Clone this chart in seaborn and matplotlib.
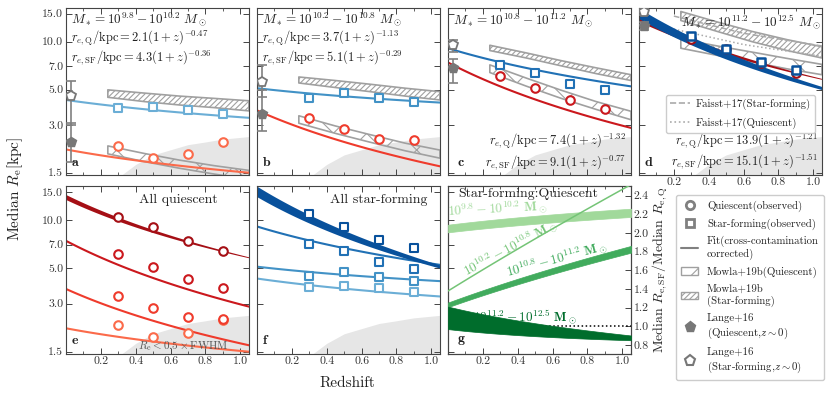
import matplotlib
matplotlib.use("Agg")
import matplotlib.pyplot as plt
import matplotlib.ticker as mticker
from matplotlib.lines import Line2D
from matplotlib.patches import Patch
import numpy as np
import seaborn as sns

# ---- data ----
MASS_LO = ["9.8", "10.2", "10.8", "11.2"]
MASS_HI = ["10.2", "10.8", "11.2", "12.5"]

Z_OBS = [0.3, 0.5, 0.7, 0.9]
SF_OBS = [[3.82, 3.87, 3.74, 3.53],
          [4.45, 4.75, 4.40, 4.15],
          [7.10, 6.40, 5.45, 4.95],
          [10.9, 9.05, 7.50, 6.65]]
Q_OBS = [[2.20, 1.85, 1.96, 2.35],
         [3.32, 2.82, 2.46, 2.40],
         [6.10, 5.10, 4.30, 3.75],
         [10.4, 9.00, 7.40, 6.40]]

# power-law fits r = A (1+z)^b, with fractional band half-width at z=0 and z=1
SF_AMP = [4.3, 5.1, 9.1, 15.1]
SF_SLOPE = [-0.36, -0.29, -0.77, -1.51]
Q_AMP = [2.1, 3.7, 7.4, 13.9]
Q_SLOPE = [-0.47, -1.13, -1.32, -1.21]
SF_SPREAD0 = [0.01, 0.002, 0.01, 0.075]
SF_SPREAD1 = [0.01, 0.002, 0.01, 0.025]
Q_SPREAD0 = [0.01, 0.002, 0.01, 0.036]
Q_SPREAD1 = [0.01, 0.002, 0.01, 0.008]

# Lange+16 (z~0)
LANGE_Z = 0.03
LANGE_SF = [4.55, 5.6, 9.5, 15.4]
LANGE_SF_LO = [3.0, 4.5, 8.6, 14.8]
LANGE_SF_HI = [5.7, 7.1, 10.3, 16.0]
LANGE_Q = [2.35, 3.5, 6.8, 12.5]
LANGE_Q_LO = [1.75, 2.73, 5.5, 11.8]
LANGE_Q_HI = [3.1, 5.0, 7.8, 13.3]

# Mowla+19b bands
MOWLA_Z = [0.24, 0.45, 0.65, 0.85, 1.05]
MOWLA_SF_HI = [[4.98, 4.75, 4.55, 4.40, 4.25],
               [6.00, 5.70, 5.40, 5.10, 4.85],
               [9.50, 8.50, 7.60, 6.85, 6.20],
               [15.5, 13.3, 11.6, 10.3, 9.30]]
MOWLA_SF_LO = [[4.47, 4.20, 4.00, 3.85, 3.67],
               [5.50, 5.15, 4.85, 4.55, 4.30],
               [8.80, 7.90, 7.05, 6.30, 5.70],
               [13.6, 11.6, 10.0, 8.80, 7.90]]
MOWLA_Q_HI = [[2.21, 1.98, 1.80, 1.66, 1.55],
              [3.42, 2.95, 2.60, 2.30, 2.08],
              [7.15, 5.90, 4.95, 4.20, 3.65],
              [10.4, 9.40, 8.60, 7.85, 7.20]]
MOWLA_Q_LO = [[1.97, 1.76, 1.60, 1.47, 1.36],
              [3.07, 2.65, 2.33, 2.06, 1.85],
              [6.40, 5.25, 4.40, 3.75, 3.23],
              [9.10, 8.20, 7.45, 6.75, 6.20]]

# Faisst+17 (massive bin only)
FAISST_Z = [0.2, 0.6, 1.05]
FAISST_SF = [14.5, 11.3, 9.4]
FAISST_Q = [12.0, 9.6, 8.1]

# Re < 0.5 x FWHM limit
SHADE_Z = [0.28, 0.3, 0.4, 0.5, 0.6, 0.7, 0.8, 0.9, 1.0, 1.05]
SHADE_RE = [1.33, 1.40, 1.69, 1.94, 2.09, 2.25, 2.34, 2.44, 2.50, 2.53]

Y_TICKS = [1.5, 3.0, 5.0, 7.0, 10.0, 15.0]
RATIO_TICKS = [0.8, 1.0, 1.2, 1.4, 1.6, 1.8, 2.0, 2.2, 2.4]

# ---- style ----
sns.set_theme(style="ticks")
plt.rcParams.update({
    "font.family": "cmr10",
    "mathtext.fontset": "cm",
    "axes.unicode_minus": False,
    "axes.formatter.use_mathtext": True,
    "xtick.direction": "in", "ytick.direction": "in",
    "xtick.top": True, "ytick.right": True,
    "axes.linewidth": 0.8, "axes.edgecolor": "#444444",
    "xtick.color": "#444444", "ytick.color": "#444444",
    "xtick.labelcolor": "#333333", "ytick.labelcolor": "#333333",
    "text.color": "#222222",
    "hatch.linewidth": 0.8,
})

# ColorBrewer shades, light -> dark mass bin
REDS = ["#fb6a4a", "#ef3b2c", "#cb181d", "#a50f15"]
BLUES = ["#6baed6", "#4292c6", "#2171b5", "#08519c"]
GREENS = ["#a1d99b", "#74c476", "#41ab5d", "#006d2c"]
GRAY = "#808080"
MOWLA_EDGE = "#a0a0a0"

z_fit = np.linspace(0.0, 1.05, 60)


def fit_band(amp, slope, s0, s1):
    mid = amp * (1 + z_fit) ** slope
    spread = s0 + (s1 - s0) * z_fit
    return mid, mid * (1 - spread), mid * (1 + spread)


fig = plt.figure(figsize=(8.3, 3.94), dpi=100)
COL_X = [66, 257, 448, 639]
ROWS = [(8, 175), (186, 354)]


def add_ax(col, row):
    top, bot = ROWS[row]
    return fig.add_axes([COL_X[col] / 830, 1 - bot / 394, 183 / 830, (bot - top) / 394])


def style_ax(ax, ylab, xlab):
    ax.set_xlim(0, 1.05)
    ax.set_yscale("log")
    ax.set_ylim(1.45, 16.3)
    ax.yaxis.set_major_locator(mticker.FixedLocator(Y_TICKS))
    ax.yaxis.set_minor_locator(mticker.NullLocator())
    ax.yaxis.set_major_formatter(mticker.FormatStrFormatter("%.1f"))
    ax.yaxis.set_minor_formatter(mticker.NullFormatter())
    ax.xaxis.set_major_locator(mticker.FixedLocator([0.2, 0.4, 0.6, 0.8, 1.0]))
    ax.xaxis.set_minor_locator(mticker.MultipleLocator(0.1))
    ax.xaxis.set_major_formatter(mticker.FormatStrFormatter("%.1f"))
    ax.tick_params(which="major", length=4, width=0.7, labelsize=8.5, pad=2)
    ax.tick_params(which="minor", length=2, width=0.6)
    if not ylab:
        ax.tick_params(labelleft=False)
    if not xlab:
        ax.tick_params(labelbottom=False)


def shade(ax):
    ax.fill_between(SHADE_Z, 1.0, SHADE_RE, color="#e6e6e6", lw=0, zorder=0)


def mowla(ax, i):
    ax.fill_between(MOWLA_Z, MOWLA_SF_LO[i], MOWLA_SF_HI[i], facecolor="none",
                    edgecolor=MOWLA_EDGE, hatch="//////", lw=1.2, zorder=1)
    ax.fill_between(MOWLA_Z, MOWLA_Q_LO[i], MOWLA_Q_HI[i], facecolor="none",
                    edgecolor=MOWLA_EDGE, hatch="x", lw=1.2, zorder=1)


def draw_fit(ax, amp, slope, s0, s1, color, band):
    mid, lo, hi = fit_band(amp, slope, s0, s1)
    if band:
        ax.fill_between(z_fit, lo, hi, color=color, lw=0, zorder=2)
    else:
        ax.plot(z_fit, mid, color=color, lw=1.5, zorder=2)


def draw_points(ax, vals, marker, color, mew=1.5):
    sns.scatterplot(x=Z_OBS, y=vals, ax=ax, marker=marker, s=38, facecolor="white",
                    edgecolor=color, linewidth=mew, zorder=4, legend=False)


def lange(ax, i):
    ax.errorbar([LANGE_Z], [LANGE_SF[i]],
                yerr=[[LANGE_SF[i] - LANGE_SF_LO[i]], [LANGE_SF_HI[i] - LANGE_SF[i]]],
                fmt="none", ecolor=GRAY, elinewidth=1.2, capsize=3.5, capthick=1.2, zorder=3)
    ax.errorbar([LANGE_Z], [LANGE_Q[i]],
                yerr=[[LANGE_Q[i] - LANGE_Q_LO[i]], [LANGE_Q_HI[i] - LANGE_Q[i]]],
                fmt="none", ecolor=GRAY, elinewidth=1.2, capsize=3.5, capthick=1.2, zorder=3)
    ax.plot([LANGE_Z], [LANGE_Q[i]], marker="p", ms=7, color="#777777", ls="none", zorder=3.5)
    ax.plot([LANGE_Z], [LANGE_SF[i]], marker="p", ms=7, mfc="white", mec="#777777",
            mew=1.3, ls="none", zorder=3.5)


def mass_text(i):
    return rf"$M_* = 10^{{{MASS_LO[i]}}} - 10^{{{MASS_HI[i]}}}\ M_\odot$"


def fit_texts(i):
    q = rf"$r_{{e,\rm Q}}/{{\rm kpc}} = {Q_AMP[i]}(1+z)^{{{Q_SLOPE[i]}}}$"
    sf = rf"$r_{{e,\rm SF}}/{{\rm kpc}} = {SF_AMP[i]}(1+z)^{{{SF_SLOPE[i]}}}$"
    return q, sf


FIT_FS = 9.0

# ---- top row: one mass bin per panel ----
top_axes = []
for i in range(4):
    ax = add_ax(i, 0)
    top_axes.append(ax)
    style_ax(ax, ylab=(i == 0), xlab=(i == 3))
    shade(ax)
    mowla(ax, i)
    band = i == 3
    draw_fit(ax, Q_AMP[i], Q_SLOPE[i], Q_SPREAD0[i], Q_SPREAD1[i], REDS[i], band)
    draw_fit(ax, SF_AMP[i], SF_SLOPE[i], SF_SPREAD0[i], SF_SPREAD1[i], BLUES[i], band)
    lange(ax, i)
    draw_points(ax, Q_OBS[i], "o", REDS[i])
    draw_points(ax, SF_OBS[i], "s", BLUES[i], mew=1.8 if i == 3 else 1.5)
    q_txt, sf_txt = fit_texts(i)
    if i < 2:
        ax.text(0.025, 0.93, mass_text(i), transform=ax.transAxes, fontsize=9.5, va="center")
        ax.text(0.03, 0.82, q_txt, transform=ax.transAxes, fontsize=FIT_FS, va="center")
        ax.text(0.03, 0.705, sf_txt, transform=ax.transAxes, fontsize=FIT_FS, va="center")
    else:
        ha, xx = ("left", 0.025) if i == 2 else ("right", 0.995)
        ax.text(xx, 0.92, mass_text(i), transform=ax.transAxes, fontsize=9.5, va="center", ha=ha)
        ax.text(0.975, 0.2, q_txt, transform=ax.transAxes, fontsize=FIT_FS, va="center", ha="right")
        ax.text(0.975, 0.075, sf_txt, transform=ax.transAxes, fontsize=FIT_FS, va="center", ha="right")
    ax.text(0.03 if i != 2 else 0.05, 0.075, rf"$\mathbf{{{'abcd'[i]}}}$",
            transform=ax.transAxes, fontsize=10, va="center")

axd = top_axes[3]
axd.plot(FAISST_Z, FAISST_SF, ls="--", color="#aaaaaa", lw=1.1, zorder=1.5)
axd.plot(FAISST_Z, FAISST_Q, ls=":", color="#aaaaaa", lw=1.1, zorder=1.5)
faisst_handles = [Line2D([], [], ls="--", color="#aaaaaa", lw=1.2),
                  Line2D([], [], ls=":", color="#aaaaaa", lw=1.2)]
axd.legend(faisst_handles, ["Faisst+17(Star-forming)", "Faisst+17(Quiescent)"],
           loc="center", bbox_to_anchor=(0.555, 0.365), fontsize=7.8, frameon=True,
           edgecolor="#cccccc", framealpha=1, handlelength=1.8, borderpad=0.35,
           labelspacing=0.75, handletextpad=0.6)

# ---- bottom row ----
axe = add_ax(0, 1)
style_ax(axe, True, True)
shade(axe)
for i in range(4):
    draw_fit(axe, Q_AMP[i], Q_SLOPE[i], Q_SPREAD0[i], Q_SPREAD1[i], REDS[i], i == 3)
    draw_points(axe, Q_OBS[i], "o", REDS[i])
axe.text(0.83, 0.915, "All quiescent", transform=axe.transAxes, ha="right", va="center", fontsize=10)
axe.text(0.64, 0.045, r"$R_{\rm e} < 0.5\times{\rm FWHM}$", transform=axe.transAxes,
         ha="center", va="center", fontsize=8, color="#555555")
axe.text(0.03, 0.08, r"$\mathbf{e}$", transform=axe.transAxes, fontsize=10, va="center")

axf = add_ax(1, 1)
style_ax(axf, False, True)
shade(axf)
for i in range(4):
    draw_fit(axf, SF_AMP[i], SF_SLOPE[i], SF_SPREAD0[i], SF_SPREAD1[i], BLUES[i], i == 3)
    draw_points(axf, SF_OBS[i], "s", BLUES[i])
axf.text(0.93, 0.915, "All star-forming", transform=axf.transAxes, ha="right", va="center", fontsize=10)
axf.text(0.03, 0.08, r"$\mathbf{f}$", transform=axf.transAxes, fontsize=10, va="center")

axg = add_ax(2, 1)
style_ax(axg, False, True)
axg.tick_params(right=False, which="both")
axr = axg.twinx()
axr.set_ylim(0.703, 2.504)
axr.yaxis.set_major_locator(mticker.FixedLocator(RATIO_TICKS))
axr.yaxis.set_major_formatter(mticker.FormatStrFormatter("%.1f"))
axr.tick_params(axis="y", direction="in", length=4, width=0.7, labelsize=8.5, pad=2)
axr.axhline(1.0, color="black", ls=":", lw=1.1, zorder=1)
for i in range(4):
    sf_mid, sf_lo, sf_hi = fit_band(SF_AMP[i], SF_SLOPE[i], SF_SPREAD0[i], SF_SPREAD1[i])
    q_mid, q_lo, q_hi = fit_band(Q_AMP[i], Q_SLOPE[i], Q_SPREAD0[i], Q_SPREAD1[i])
    if i == 1:
        axr.plot(z_fit, sf_mid / q_mid, color=GREENS[i], lw=1.1, zorder=3)
    else:
        axr.fill_between(z_fit, sf_lo / q_hi, sf_hi / q_lo, color=GREENS[i], lw=0.5, zorder=3)
axr.set_ylabel(r"Median $R_{\rm e,SF}$/Median $R_{\rm e,Q}$", fontsize=10, labelpad=1)
axr.text(0.055, 0.95, "Star-forming:Quiescent", transform=axr.transAxes, va="center", fontsize=10)
G_LABEL_POS = [(0.28, 2.25, 3), (0.36, 1.84, 28), (0.625, 1.71, 15), (0.44, 1.10, 0)]
for i, (gx, gy, rot) in enumerate(G_LABEL_POS):
    axr.text(gx, gy, rf"$\mathbf{{10^{{{MASS_LO[i]}}} - 10^{{{MASS_HI[i]}}}\ M_\odot}}$",
             color=GREENS[i], fontsize=9.5, ha="center", va="center", rotation=rot,
             rotation_mode="anchor", zorder=2)
axr.text(0.05, 0.08, r"$\mathbf{g}$", transform=axr.transAxes, fontsize=10, va="center")

# ---- common labels & legend ----
fig.text(0.018, 0.52, r"Median $R_{\rm e}$[kpc]", rotation=90, ha="center", va="center", fontsize=11)
fig.text(0.419, 0.028, "Redshift", ha="center", va="center", fontsize=11)

handles = [
    Line2D([], [], marker="o", ls="none", mfc="white", mec=GRAY, mew=2, ms=6),
    Line2D([], [], marker="s", ls="none", mfc="white", mec=GRAY, mew=2, ms=6),
    Line2D([], [], color=GRAY, lw=1.5),
    Patch(facecolor="white", edgecolor=MOWLA_EDGE, hatch="x"),
    Patch(facecolor="white", edgecolor=MOWLA_EDGE, hatch="//////"),
    Line2D([], [], marker="p", ls="none", color="#777777", ms=8),
    Line2D([], [], marker="p", ls="none", mfc="white", mec="#777777", mew=1.5, ms=8),
]
labels = ["Quiescent(observed)", "Star-forming(observed)",
          "Fit(cross-contamination\ncorrected)", "Mowla+19b(Quiescent)",
          "Mowla+19b\n(Star-forming)", "Lange+16\n(Quiescent,$z\\sim0$)",
          "Lange+16\n(Star-forming,$z\\sim0$)"]
fig.legend(handles, labels, loc="center", bbox_to_anchor=(0.9035, 0.27), fontsize=7.8,
           frameon=True, edgecolor="#cccccc", framealpha=1, handlelength=1.6,
           labelspacing=0.6, borderpad=0.5, handletextpad=0.8)

fig.savefig("out.png", dpi=100)
